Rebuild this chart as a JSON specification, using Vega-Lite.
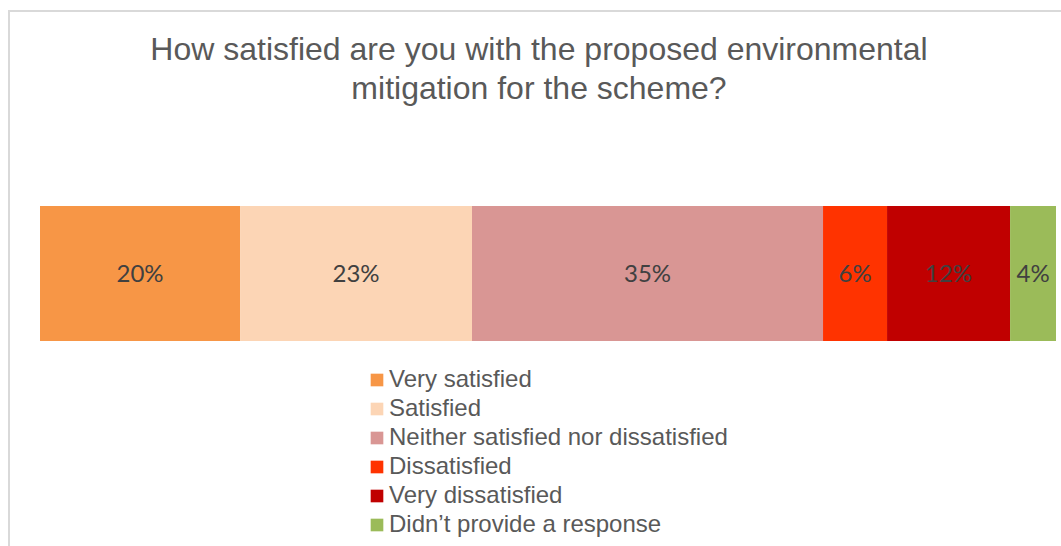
{
  "$schema": "https://vega.github.io/schema/vega-lite/v6.json",
  "autosize": "none",
  "width": 1060,
  "height": 540,
  "padding": {"left": 9, "top": 11, "right": 0, "bottom": 0},
  "background": "white",
  "title": {
    "text": ["How satisfied are you with the proposed environmental", "mitigation for the scheme?"],
    "anchor": "middle",
    "frame": "group",
    "font": "Liberation Sans",
    "fontSize": 32,
    "fontWeight": "normal",
    "color": "#595959",
    "lineHeight": 39,
    "baseline": "top",
    "dy": 99
  },
  "data": {
    "values": [
      {"response": "Very satisfied", "value": 19.69, "label": "20%", "order": 1},
      {"response": "Satisfied", "value": 22.83, "label": "23%", "order": 2},
      {"response": "Neither satisfied nor dissatisfied", "value": 34.55, "label": "35%", "order": 3},
      {"response": "Dissatisfied", "value": 6.3, "label": "6%", "order": 4},
      {"response": "Very dissatisfied", "value": 12.11, "label": "12%", "order": 5},
      {"response": "Didn’t provide a response", "value": 4.52, "label": "4%", "order": 6}
    ]
  },
  "transform": [
    {"stack": "value", "groupby": [], "sort": [{"field": "order", "order": "ascending"}], "as": ["v0", "v1"]},
    {"calculate": "(datum.v0 + datum.v1) / 2", "as": "mid"},
    {"calculate": "'q'", "as": "q"}
  ],
  "layer": [
    {
      "mark": {"type": "bar"},
      "encoding": {
        "x": {"field": "v0", "type": "quantitative", "scale": {"domain": [0, 100], "range": [31, 1047], "nice": false, "zero": true}, "axis": null},
        "x2": {"field": "v1"},
        "y": {"field": "q", "type": "nominal", "scale": {"range": [195, 330], "paddingInner": 0, "paddingOuter": 0}, "axis": null},
        "color": {
          "field": "response",
          "type": "nominal",
          "sort": ["Very satisfied", "Satisfied", "Neither satisfied nor dissatisfied", "Dissatisfied", "Very dissatisfied", "Didn’t provide a response"],
          "scale": {
            "domain": ["Very satisfied", "Satisfied", "Neither satisfied nor dissatisfied", "Dissatisfied", "Very dissatisfied", "Didn’t provide a response"],
            "range": ["#F79646", "#FCD5B5", "#D99694", "#FF3300", "#C00000", "#9BBB59"]
          },
          "legend": {
            "title": null,
            "orient": "none",
            "legendX": 356,
            "legendY": 357,
            "direction": "vertical",
            "symbolType": "square",
            "symbolSize": 160,
            "symbolStrokeWidth": 0,
            "symbolOffset": 0,
            "labelFont": "Liberation Sans",
            "labelFontSize": 24,
            "labelColor": "#595959",
            "labelOffset": 0,
            "labelLimit": 600,
            "rowPadding": 5
          }
        }
      }
    },
    {
      "mark": {"type": "text", "font": "Lato", "fontSize": 24, "color": "#404040", "align": "center", "baseline": "middle", "dy": 1},
      "encoding": {
        "x": {"field": "mid", "type": "quantitative"},
        "y": {"field": "q", "type": "nominal", "band": 0.5},
        "text": {"field": "label"}
      }
    }
  ],
  "config": {
    "view": {"stroke": "#d9d9d9", "strokeWidth": 2}
  }
}
